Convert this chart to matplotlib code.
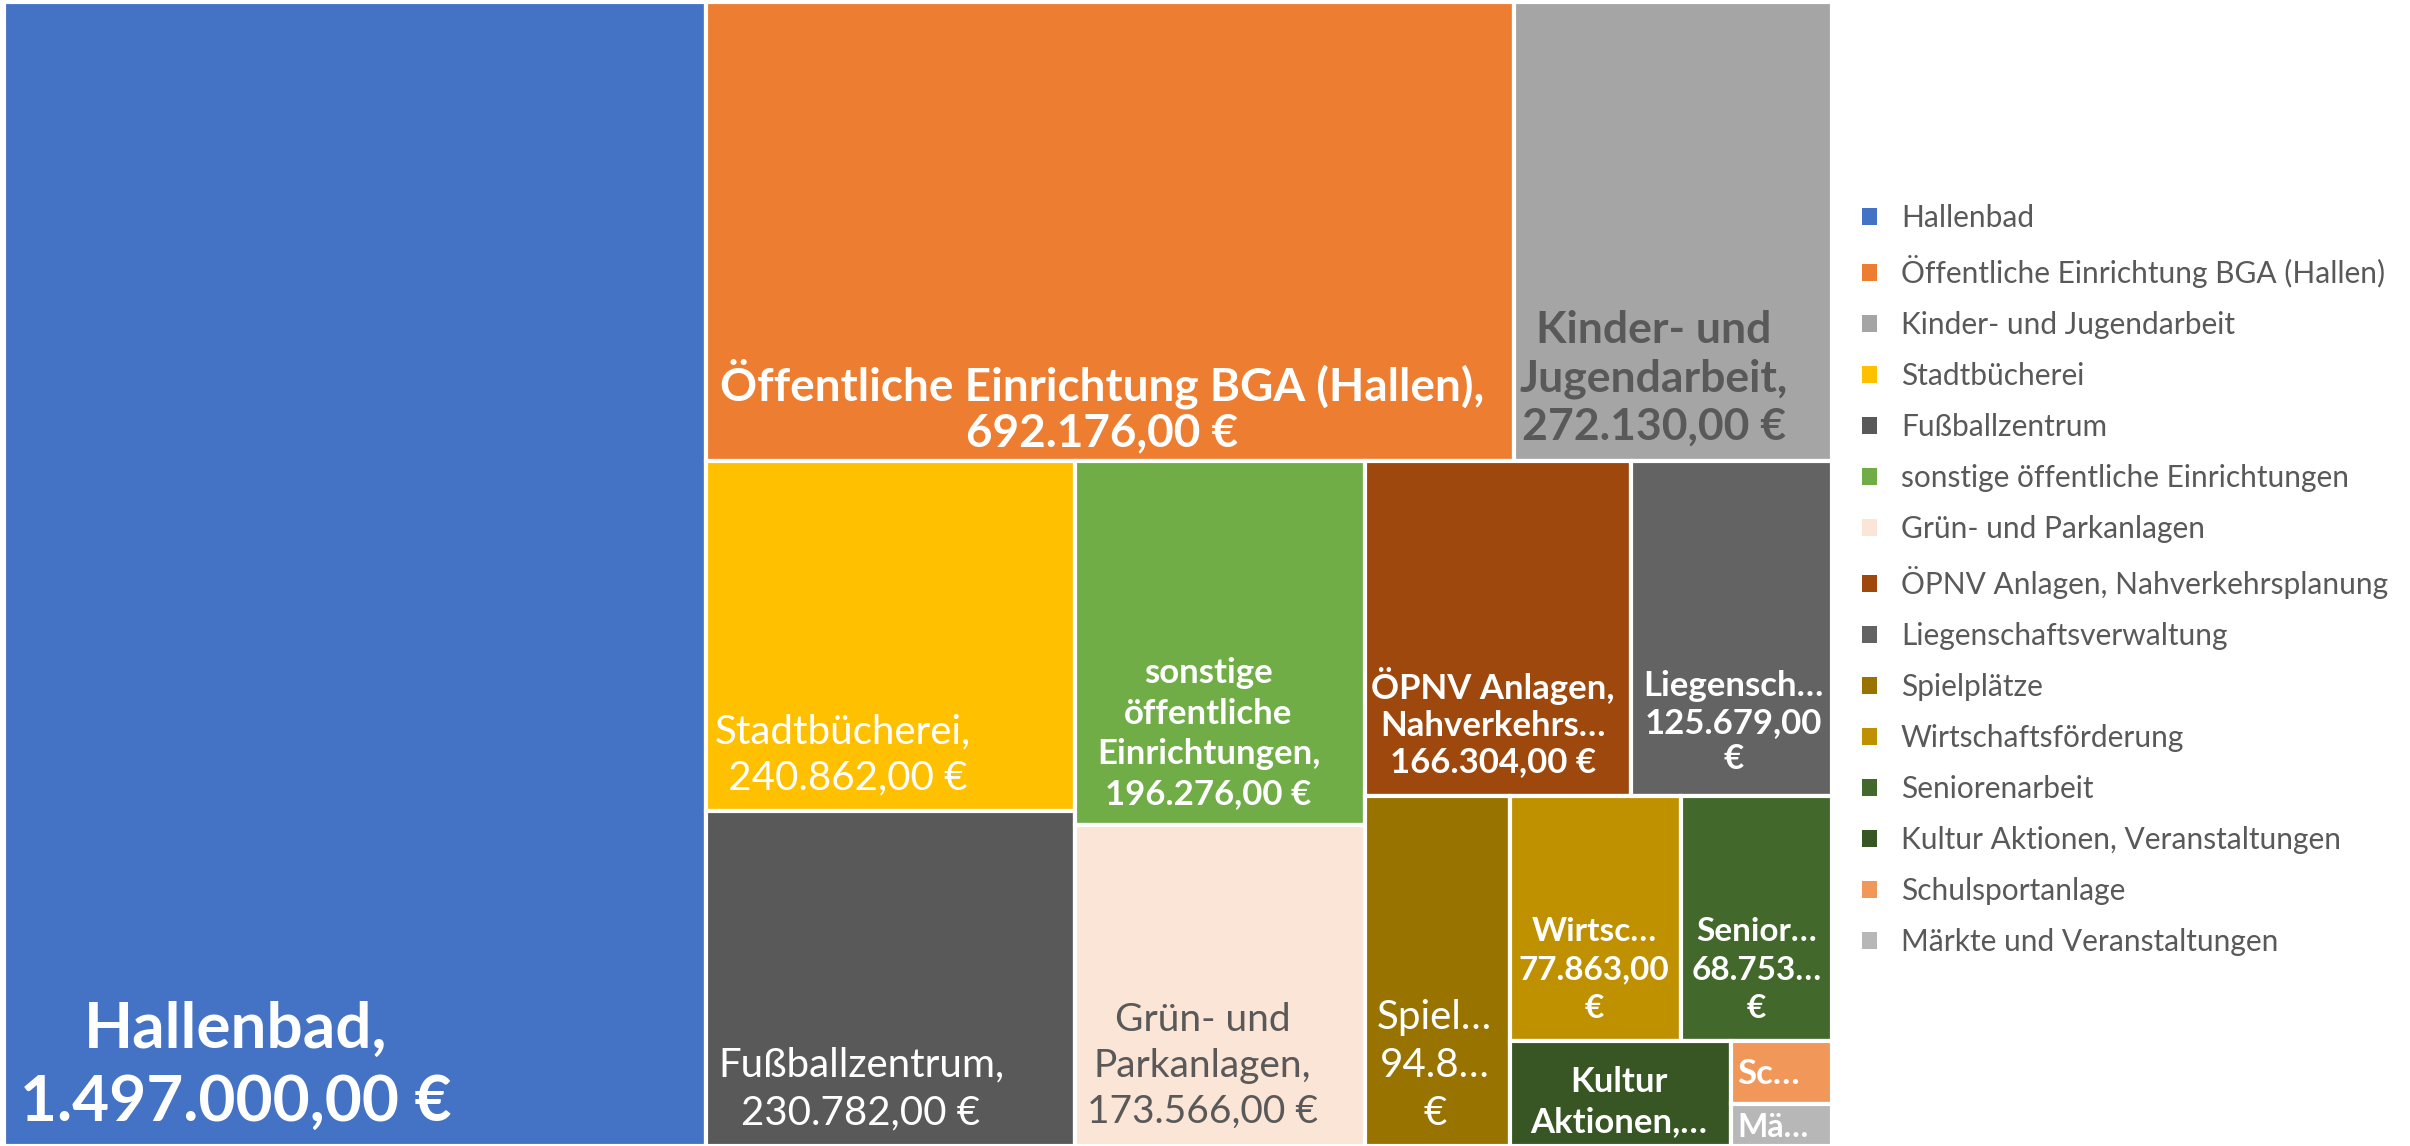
import matplotlib
matplotlib.use("Agg")
import matplotlib.pyplot as plt
from matplotlib.patches import Rectangle, Patch

plt.rcParams["font.family"] = ["Lato", "DejaVu Sans"]

# data
names = ["Hallenbad", "Öffentliche Einrichtung BGA (Hallen)", "Kinder- und Jugendarbeit",
         "Stadtbücherei", "Fußballzentrum", "sonstige öffentliche Einrichtungen",
         "Grün- und Parkanlagen", "ÖPNV Anlagen, Nahverkehrsplanung", "Liegenschaftsverwaltung",
         "Spielplätze", "Wirtschaftsförderung", "Seniorenarbeit",
         "Kultur Aktionen, Veranstaltungen", "Schulsportanlage", "Märkte und Veranstaltungen"]
values = [1497000, 692176, 272130, 240862, 230782, 196276, 173566, 166304, 125679,
          94850, 77863, 68753, 43250, 11850, 7900]
colors = ["#4472C4", "#ED7D31", "#A5A5A5", "#FFC000", "#595959", "#70AD47", "#FBE5D6",
          "#9E480E", "#636363", "#997300", "#BF9000", "#43682B", "#375623", "#F1975A", "#B7B7B7"]
# strips of the squarified layout as in the original: tiles per strip, and whether
# the strip is a column (tiles stacked) or a row (tiles side by side)
strip_sizes = [1, 2, 2, 2, 2, 1, 2, 1, 2]
strip_dirs = ["col", "row", "col", "col", "row", "col", "row", "col", "col"]
# labels as shown in the tiles (wrapped / truncated like the original)
tile_labels = ["Hallenbad,\n1.497.000,00 €",
               "Öffentliche Einrichtung BGA (Hallen),\n692.176,00 €",
               "Kinder- und\nJugendarbeit,\n272.130,00 €",
               "Stadtbücherei,\n 240.862,00 €",
               "Fußballzentrum,\n230.782,00 €",
               "sonstige\nöffentliche\nEinrichtungen,\n196.276,00 €",
               "Grün- und\nParkanlagen,\n173.566,00 €",
               "ÖPNV Anlagen,\nNahverkehrs…\n166.304,00 €",
               "Liegensch…\n125.679,00\n€",
               "Spiel…\n94.8…\n€",
               "Wirtsc…\n77.863,00\n€",
               "Senior…\n68.753…\n€",
               "Kultur\nAktionen,…",
               "Sc…",
               "Mä…"]

# label style per tile: (rel x, rel y, fontsize, bold, color, linespacing)
label_style = [(0.33, 0.93, 46, True, "white", 1.35),
               (0.49, 0.88, 33, True, "white", 1.1),
               (0.44, 0.82, 32, True, "#595959", 1.25),
               (0.37, 0.84, 29, False, "white", 1.33),
               (0.42, 0.83, 29, False, "white", 1.35),
               (0.46, 0.75, 25, True, "white", 1.32),
               (0.44, 0.75, 28, False, "#595959", 1.35),
               (0.48, 0.78, 25, True, "white", 1.18),
               (0.51, 0.78, 25, True, "white", 1.18),
               (0.48, 0.77, 29, False, "white", 1.37),
               (0.49, 0.71, 24, True, "white", 1.4),
               (0.50, 0.71, 24, True, "white", 1.4),
               (0.49, 0.58, 25, True, "white", 1.3),
               (0.37, 0.52, 25, True, "white", 1.0),
               (0.41, 0.55, 23, True, "white", 1.0)]


def squarify(areas, sizes, dirs, x, y, w, h):
    rects = []
    i = 0
    for n, d in zip(sizes, dirs):
        row = areas[i:i + n]
        i += n
        s = sum(row)
        if d == "col":
            rw = s / h
            yy = y
            for a in row:
                rects.append((x, yy, rw, a / rw))
                yy += a / rw
            x += rw
            w -= rw
        else:
            rh = s / w
            xx = x
            for a in row:
                rects.append((xx, y, a / rh, rh))
                xx += a / rh
            y += rh
            h -= rh
    return rects


W, H = 1828.0, 1144.0
total = sum(values)
areas = [v / total * W * H for v in values]
rects = squarify(areas, strip_sizes, strip_dirs, 0, 0, W, H)

fig = plt.figure(figsize=(24.1, 11.46), dpi=100)
ax = fig.add_axes([4 / 2410, 0, W / 2410, H / 1146])
ax.set_xlim(0, W)
ax.set_ylim(H, 0)
ax.axis("off")

for (x, y, w, h), c, lab, st in zip(rects, colors, tile_labels, label_style):
    ax.add_patch(Rectangle((x, y), w, h, facecolor=c, edgecolor="white", linewidth=3))
    fx, fy, fs, bold, tc, ls = st
    ax.text(x + fx * w, y + fy * h, lab, ha="center", va="center", fontsize=fs,
            fontweight="bold" if bold else "normal", color=tc, linespacing=ls,
            clip_on=True)

handles = [Patch(facecolor=c, edgecolor="none") for c in colors]
fig.legend(handles, names, loc="upper left", bbox_to_anchor=(1862 / 2410, 1 - 204 / 1146),
           frameon=False, fontsize=21.5, labelcolor="#595959", handlelength=0.5,
           handleheight=0.5, handletextpad=0.8, labelspacing=0.77, borderpad=0,
           borderaxespad=0)

fig.savefig("out.png", dpi=100)
